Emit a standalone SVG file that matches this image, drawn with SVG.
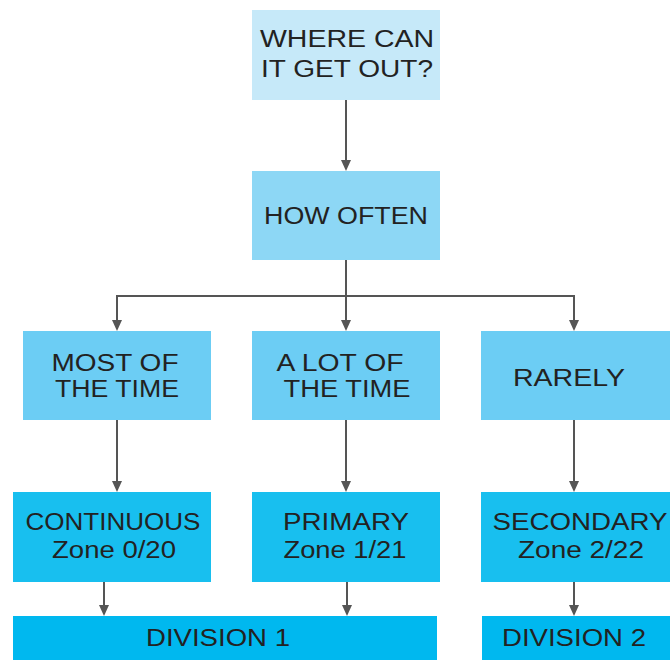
<svg xmlns="http://www.w3.org/2000/svg" width="670" height="660" viewBox="0 0 670 660">
<style>
text{font-family:"Liberation Sans",Arial,sans-serif;font-size:23px;fill:#222;text-anchor:middle}
.c{fill:none;stroke:#555;stroke-width:2}
.b1{fill:#c6e9f9}.b2{fill:#8dd7f5}.b3{fill:#6ccdf4}.b4{fill:#18bfef}.b5{fill:#00b8ef}
</style>
<defs>
<marker id="ah" markerUnits="userSpaceOnUse" markerWidth="11" markerHeight="10" refX="3" refY="5" orient="auto" viewBox="0 0 11 10">
<path d="M0,0 L11,5 L0,10 z" fill="#555"/>
</marker>
</defs>
<rect width="670" height="660" fill="#fff"/>
<g id="connectors">
<path class="c" d="M346,100 V163" marker-end="url(#ah)"/>
<path class="c" d="M346,260 V323" marker-end="url(#ah)"/>
<path class="c" d="M117,323 V296 H574 V323" marker-end="url(#ah)"/>
<path class="c" d="M117,296 V323" marker-end="url(#ah)"/>
<path class="c" d="M117,420 V484" marker-end="url(#ah)"/>
<path class="c" d="M346,420 V484" marker-end="url(#ah)"/>
<path class="c" d="M574,420 V484" marker-end="url(#ah)"/>
<path class="c" d="M104,582 V608" marker-end="url(#ah)"/>
<path class="c" d="M347,582 V608" marker-end="url(#ah)"/>
<path class="c" d="M574,582 V608" marker-end="url(#ah)"/>
</g>
<g id="where">
<rect class="b1" x="252" y="10" width="188" height="90"/>
<text x="347" y="47" textLength="174" lengthAdjust="spacingAndGlyphs">WHERE CAN</text>
<text x="347" y="77" textLength="172" lengthAdjust="spacingAndGlyphs">IT GET OUT?</text>
</g>
<g id="howoften">
<rect class="b2" x="252" y="171" width="188" height="89"/>
<text x="346" y="224" textLength="164" lengthAdjust="spacingAndGlyphs">HOW OFTEN</text>
</g>
<g id="most">
<rect class="b3" x="23" y="331" width="188" height="89"/>
<text x="115" y="371" textLength="127" lengthAdjust="spacingAndGlyphs">MOST OF</text>
<text x="117" y="397" textLength="124" lengthAdjust="spacingAndGlyphs">THE TIME</text>
</g>
<g id="alot">
<rect class="b3" x="252" y="331" width="188" height="89"/>
<text x="340" y="371" textLength="127" lengthAdjust="spacingAndGlyphs">A LOT OF</text>
<text x="347" y="397" textLength="127" lengthAdjust="spacingAndGlyphs">THE TIME</text>
</g>
<g id="rarely">
<rect class="b3" x="481" y="331" width="189" height="89"/>
<text x="569" y="386" textLength="112" lengthAdjust="spacingAndGlyphs">RARELY</text>
</g>
<g id="continuous">
<rect class="b4" x="13" y="492" width="198" height="90"/>
<text x="113" y="530" textLength="175" lengthAdjust="spacingAndGlyphs">CONTINUOUS</text>
<text x="114" y="558" textLength="124" lengthAdjust="spacingAndGlyphs">Zone 0/20</text>
</g>
<g id="primary">
<rect class="b4" x="252" y="492" width="188" height="90"/>
<text x="346" y="530" textLength="126" lengthAdjust="spacingAndGlyphs">PRIMARY</text>
<text x="345" y="558" textLength="123" lengthAdjust="spacingAndGlyphs">Zone 1/21</text>
</g>
<g id="secondary">
<rect class="b4" x="481" y="492" width="189" height="90"/>
<text x="580" y="530" textLength="175" lengthAdjust="spacingAndGlyphs">SECONDARY</text>
<text x="581" y="558" textLength="126" lengthAdjust="spacingAndGlyphs">Zone 2/22</text>
</g>
<g id="division1">
<rect class="b5" x="13" y="616" width="424" height="44"/>
<text x="218" y="646" textLength="144" lengthAdjust="spacingAndGlyphs">DIVISION 1</text>
</g>
<g id="division2">
<rect class="b5" x="482" y="616" width="188" height="44"/>
<text x="574" y="646" textLength="144" lengthAdjust="spacingAndGlyphs">DIVISION 2</text>
</g>
</svg>
